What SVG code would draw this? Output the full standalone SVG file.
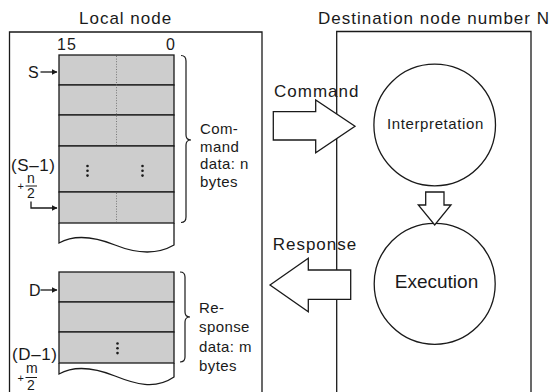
<svg xmlns="http://www.w3.org/2000/svg" width="552" height="392" viewBox="0 0 552 392">
<style>
text{font-family:"Liberation Sans",Arial,Helvetica,sans-serif;fill:#1a1a1a}
.big{font-size:17px;letter-spacing:1px}
.side{font-size:15px;letter-spacing:0.4px}
.box{fill:none;stroke:#1a1a1a;stroke-width:1.3}
.row{fill:#cdcdcd;stroke:#1a1a1a;stroke-width:1.3}
.tail{fill:#fff;stroke:#1a1a1a;stroke-width:1.3}
.dot{stroke:#777;stroke-width:1;stroke-dasharray:1 1.6;fill:none}
.brace{fill:none;stroke:#1a1a1a;stroke-width:1.2}
.fat{fill:#fff;stroke:#1a1a1a;stroke-width:1.3;stroke-linejoin:miter}
.ptr{fill:none;stroke:#1a1a1a;stroke-width:1.3}
.circ{fill:#fff;stroke:#1a1a1a;stroke-width:1.3}
.lab{font-size:17px;letter-spacing:0.6px}
.sm{font-size:14px;letter-spacing:0}
.pl{font-size:11px;letter-spacing:0}
</style>
<defs>
<marker id="ah" markerWidth="6" markerHeight="6" refX="5.5" refY="3" orient="auto" markerUnits="userSpaceOnUse">
<path d="M0,0 L6,3 L0,6 Z" fill="#1a1a1a"/>
</marker>
</defs>

<text class="big" x="79" y="24">Local node</text>
<text class="big" x="318" y="24">Destination node number N</text>

<g id="local-node">
<path class="box" d="M9.5,400 L9.5,32 L262,32 L262,400"/>
<text x="57" y="50" style="font-size:16px;letter-spacing:1px">15</text>
<text x="166" y="50" style="font-size:16px">0</text>
</g>

<g id="command-block">
<path class="tail" d="M59,223 L59,243 C75,234 95,237 115,245 C135,253 155,256 174,245 L174,223"/>
<rect class="row" x="59" y="55" width="115" height="30"/>
<rect class="row" x="59" y="85" width="115" height="30"/>
<rect class="row" x="59" y="115" width="115" height="31"/>
<rect class="row" x="59" y="146" width="115" height="46"/>
<rect class="row" x="59" y="192" width="115" height="31"/>
<line class="dot" x1="116.5" y1="56" x2="116.5" y2="145"/>
<line class="dot" x1="116.5" y1="193" x2="116.5" y2="222"/>
<g fill="#1a1a1a">
<circle cx="87.5" cy="166" r="1.3"/><circle cx="87.5" cy="170.8" r="1.3"/><circle cx="87.5" cy="175.6" r="1.3"/>
<circle cx="142.5" cy="166" r="1.3"/><circle cx="142.5" cy="170.8" r="1.3"/><circle cx="142.5" cy="175.6" r="1.3"/>
</g>
<path class="brace" d="M181,55.5 Q186,55.5 186,61 L186,135 Q186,140 191,140 Q186,140 186,145 L186,217 Q186,222.5 181,222.5"/>
<text class="side" x="200" y="134">Com-</text>
<text class="side" x="200" y="151.5">mand</text>
<text class="side" x="200" y="169">data: n</text>
<text class="side" x="200" y="186.5">bytes</text>
<text x="28" y="77.7" style="font-size:16px">S</text>
<line class="ptr" x1="40.5" y1="72" x2="57" y2="72" marker-end="url(#ah)"/>
<text class="lab" x="11" y="171">(S–1)</text>
<text class="sm" x="27" y="182.5">n</text>
<text class="pl" x="17.5" y="190">+</text>
<line x1="25.5" y1="186" x2="37" y2="186" stroke="#1a1a1a" stroke-width="1"/>
<text class="sm" x="27" y="198">2</text>
<path class="ptr" d="M31,201.5 L31,208 L57,208" marker-end="url(#ah)"/>
</g>

<g id="response-block">
<path class="tail" d="M59,363 L59,374 C75,365 95,368 115,376 C135,384 155,390 174,377 L174,363"/>
<rect class="row" x="59" y="272" width="115" height="30"/>
<rect class="row" x="59" y="302" width="115" height="30"/>
<rect class="row" x="59" y="332" width="115" height="31"/>
<g fill="#1a1a1a">
<circle cx="117.5" cy="343.5" r="1.3"/><circle cx="117.5" cy="348.3" r="1.3"/><circle cx="117.5" cy="353.1" r="1.3"/>
</g>
<path class="brace" d="M180,272 Q185,272 185,277 L185,312 Q185,317 190,317 Q185,317 185,322 L185,357 Q185,362 180,362"/>
<text class="side" x="199" y="312.5">Re-</text>
<text class="side" x="199" y="331.5">sponse</text>
<text class="side" x="199" y="351.5">data: m</text>
<text class="side" x="199" y="371">bytes</text>
<text x="29" y="296" style="font-size:16px">D</text>
<line class="ptr" x1="40.5" y1="290" x2="57" y2="290" marker-end="url(#ah)"/>
<text class="lab" x="12" y="360">(D–1)</text>
<text class="sm" x="26" y="373">m</text>
<text class="pl" x="17.5" y="382">+</text>
<line x1="25.5" y1="377.5" x2="37" y2="377.5" stroke="#1a1a1a" stroke-width="1"/>
<text class="sm" x="27" y="389.5">2</text>
</g>

<g id="destination-node">
<path class="box" d="M336.7,400 L336.7,31.5 L531,31.5 L531,400"/>
</g>

<g id="interpretation">
<circle class="circ" cx="434.7" cy="125" r="60.8"/>
<text x="435.5" y="129.3" text-anchor="middle" style="font-size:15px;letter-spacing:0.6px">Interpretation</text>
</g>

<g id="execution">
<circle class="circ" cx="434.7" cy="283.8" r="60.5"/>
<text x="436.5" y="287.6" text-anchor="middle" style="font-size:19px">Execution</text>
</g>

<g id="connectors">
<polygon class="fat" points="273.3,111.7 315.7,111.7 315.7,100 355,126.3 315.7,152.7 315.7,140 273.3,140"/>
<text class="big" x="274" y="97">Command</text>
<polygon class="fat" points="270,285 308.3,258.3 308.3,270 350.7,270 350.7,299.3 308.3,299.3 308.3,311.7"/>
<text class="big" x="272.7" y="249.5">Response</text>
<polygon class="fat" points="425.7,192 444,192 444,205 451,205 434.7,225 418.3,205 425.7,205"/>
</g>
</svg>
